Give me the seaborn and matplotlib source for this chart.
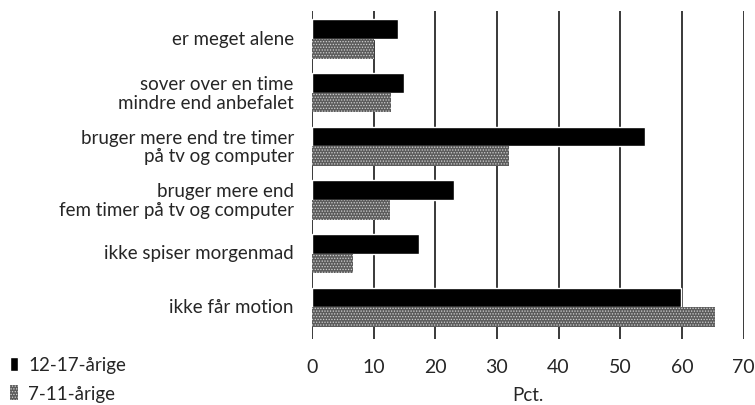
import matplotlib
matplotlib.use("Agg")
import matplotlib.pyplot as plt
import matplotlib.patches as mpatches
import seaborn as sns
import pandas as pd

categories = [
    "er meget alene",
    "sover over en time\nmindre end anbefalet",
    "bruger mere end tre timer\npå tv og computer",
    "bruger mere end\nfem timer på tv og computer",
    "ikke spiser morgenmad",
    "ikke får motion",
]
series_names = ["12-17-årige", "7-11-årige"]
values_12_17 = [14.0, 15.0, 54.0, 23.0, 17.4, 59.8]
values_7_11 = [10.1, 12.8, 32.0, 12.7, 6.6, 65.4]
x_ticks = [0, 10, 20, 30, 40, 50, 60, 70]
x_label = "Pct."

df = pd.DataFrame({
    "kategori": categories * 2,
    "gruppe": [series_names[0]] * len(categories) + [series_names[1]] * len(categories),
    "pct": values_12_17 + values_7_11,
})

sns.set_theme(style="white")
plt.rcParams["font.family"] = ["Lato", "DejaVu Sans"]
plt.rcParams["hatch.linewidth"] = 0.6

fig = plt.figure(figsize=(7.55, 4.06), dpi=100)
ax = fig.add_axes([0.413, 0.163, 0.572, 0.807])

for x in x_ticks:
    ax.axvline(x, color="#2a2a2a", lw=1.3, zorder=0)

sns.barplot(data=df, y="kategori", x="pct", hue="gruppe", orient="h",
            hue_order=series_names, order=categories,
            palette=["#000000", "#5c5c5c"], width=0.73, gap=0,
            saturation=1, legend=False, ax=ax, zorder=2)

for p in ax.containers[1]:
    p.set_hatch("......")
    p.set_edgecolor("#d0d0d0")
    p.set_linewidth(0)

ax.set_xlim(0, 70)
ax.set_ylim(5.59, -0.52)
ax.set_xticks(x_ticks)
ax.set_xticklabels([str(t) for t in x_ticks], fontsize=14)
ax.set_yticks([i - 0.04 for i in range(len(categories))])
ax.set_yticklabels(categories, fontsize=13.5, ha="right", ma="right",
                   linespacing=1.12)
ax.tick_params(axis="y", length=0, pad=13)
ax.tick_params(axis="x", length=0, pad=14)
ax.set_ylabel("")
ax.set_xlabel(x_label, fontsize=13.5, labelpad=8)
for s in ax.spines.values():
    s.set_visible(False)

h1 = mpatches.Patch(facecolor="#000000")
h2 = mpatches.Patch(facecolor="#5c5c5c", hatch="......", edgecolor="#d0d0d0", linewidth=0)
fig.legend([h1, h2], series_names, loc="upper left",
           bbox_to_anchor=(0.0132, 0.12), frameon=False, fontsize=13.5,
           handlelength=0.42, handleheight=0.8, handletextpad=0.55,
           labelspacing=0.62, borderpad=0, borderaxespad=0)

fig.savefig("out.png", dpi=100)
